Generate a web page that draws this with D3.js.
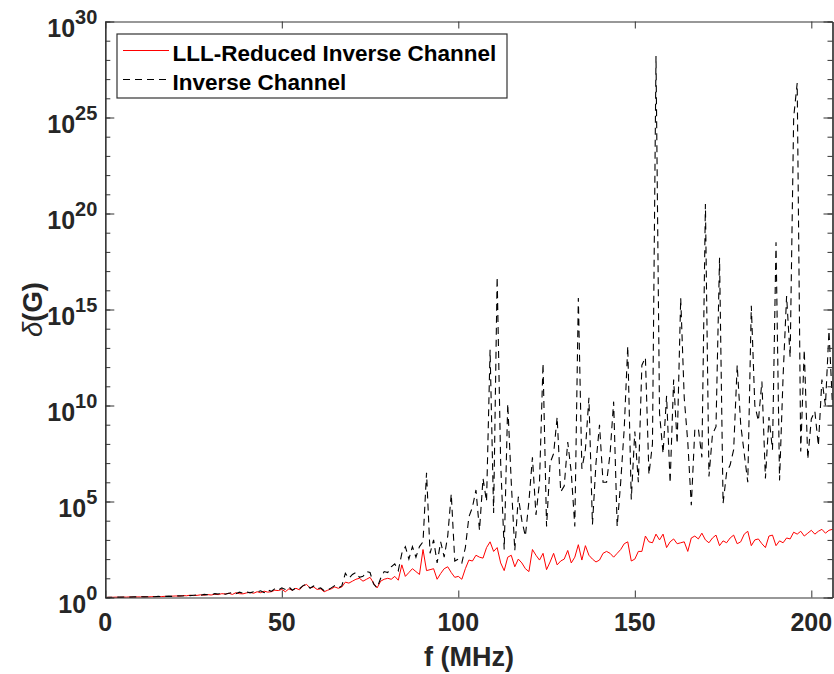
<!DOCTYPE html>
<html>
<head>
<meta charset="utf-8">
<script src="https://cdn.jsdelivr.net/npm/d3@7"></script>
<style>
  body { margin: 0; background: #fff; }
  text { font-family: "Liberation Sans", Arial, Helvetica, sans-serif; font-weight: bold; }
</style>
</head>
<body>
<svg id="chart" width="834" height="674"></svg>
<script>
// frequency grid, MHz
var freqMHz = d3.range(0, 207, 1);

// log10 of delta(G) at each MHz
var lllLog10 = [
  0,0.01,0.01,0.02,0.01,0.02,0.02,0.03,0.02,0.03,
  0.03,0.04,0.03,0.04,0.05,0.04,0.05,0.06,0.05,0.07,
  0.08,0.07,0.1,0.09,0.12,0.1,0.11,0.14,0.12,0.15,
  0.13,0.17,0.15,0.2,0.18,0.22,0.16,0.25,0.2,0.19,
  0.24,0.27,0.22,0.3,0.25,0.33,0.28,0.3,0.38,0.36,
  0.42,0.3,0.45,0.38,0.48,0.4,0.6,0.68,0.5,0.55,
  0.42,0.45,0.3,0.38,0.45,0.55,0.48,0.55,0.8,0.75,
  0.85,0.95,1.0,0.85,0.95,1.05,0.75,0.5,0.85,0.95,
  1.0,0.95,1.1,0.9,1.7,1.1,1.3,1.5,1.35,1.2,
  2.5,1.4,1.45,1.5,0.95,1.25,1.5,1.6,1.3,1.05,
  1.1,0.95,1.5,1.95,1.9,2.2,2.1,2.05,2.6,2.9,
  2.4,2.6,1.8,1.4,2.1,2.2,1.6,2.0,1.8,1.5,
  1.35,2.5,2.2,1.95,2.3,1.45,1.85,2.3,1.7,1.9,
  2.0,2.45,1.8,2.1,2.75,1.95,2.7,2.2,2.0,1.85,
  1.95,2.3,2.4,2.3,2.1,2.3,2.5,2.8,2.9,1.9,
  2.0,2.4,2.4,3.2,2.9,2.85,3.3,3.0,3.3,2.6,
  2.9,3.05,2.8,2.85,2.9,2.4,3.1,3.2,3.05,3.35,
  3.0,2.85,3.1,3.25,2.7,2.95,2.85,3.1,3.25,2.8,
  2.9,3.3,3.45,2.7,3.0,3.05,2.8,2.6,3.2,3.25,
  2.7,2.95,2.85,3.1,3.05,3.4,3.3,3.45,3.2,3.35,
  3.5,3.3,3.45,3.55,3.35,3.5,3.55
];

var invLog10 = [
  0,0.01,0.01,0.02,0.02,0.02,0.03,0.02,0.03,0.03,
  0.04,0.03,0.04,0.05,0.04,0.06,0.05,0.06,0.07,0.06,
  0.08,0.09,0.08,0.11,0.1,0.12,0.13,0.11,0.16,0.14,
  0.15,0.2,0.18,0.24,0.17,0.22,0.27,0.2,0.28,0.22,
  0.3,0.24,0.3,0.28,0.35,0.25,0.4,0.32,0.45,0.38,
  0.5,0.42,0.55,0.38,0.5,0.45,0.62,0.7,0.48,0.6,
  0.45,0.5,0.35,0.4,0.5,0.62,0.5,0.6,1.26,1.0,
  1.2,1.3,1.05,1.1,1.35,1.3,0.7,0.5,1.0,1.35,
  1.3,1.6,1.75,1.4,2.3,2.65,2.0,2.65,2.1,2.65,
  2.9,6.5,2.3,3.0,1.8,2.9,2.1,3.2,5.4,1.9,
  2.0,1.8,2.6,4.2,4.7,5.6,3.5,6.2,5.0,12.9,
  4.4,16.7,7.0,2.5,10.1,6.0,2.45,5.25,4.0,3.2,
  5.0,7.3,4.3,6.0,12.2,3.7,7.0,7.5,9.4,5.5,
  5.8,8.1,6.5,3.7,15.6,6.7,7.7,10.4,3.8,7.0,
  9.0,6.0,6.0,7.5,10.2,3.7,6.0,8.8,13.1,5.1,
  8.65,6.0,12.1,12.5,6.4,8.0,28.2,9.6,7.5,10.5,
  5.95,11.35,8.0,15.6,10.4,8.1,4.8,8.75,8.8,7.3,
  20.5,6.3,8.5,8.9,17.7,4.9,6.5,6.9,7.7,12.1,
  9.0,7.5,6.0,15.2,10.0,9.2,11.25,6.2,9.4,7.7,
  18.5,6.1,11.5,15.7,12.5,25.0,26.8,7.6,12.9,7.2,
  9.3,9.7,7.9,11.35,10.0,13.9,10.0
];

var xTicks = [0, 50, 100, 150, 200];
var yDecades = d3.range(0, 31, 1);
var yLabelExps = [0, 5, 10, 15, 20, 25, 30];
var seriesNames = ["LLL-Reduced Inverse Channel", "Inverse Channel"];

var svg = d3.select("#chart"),
    box = {left: 105.3, right: 832.5, top: 21.5, bottom: 597.5},
    axisColor = "#333";

var x = d3.scaleLinear().domain([0, 206]).range([box.left, box.right]);
var y = d3.scaleLog().domain([1, 1e30]).range([box.bottom, box.top]);

function toPoints(exps) {
  return freqMHz.map(function(f, i) { return {f: f, v: Math.pow(10, exps[i])}; });
}

var line = d3.line()
    .x(function(d) { return x(d.f); })
    .y(function(d) { return y(d.v); });

svg.append("path")
    .datum(toPoints(lllLog10))
    .attr("fill", "none")
    .attr("stroke", "#ff0000")
    .attr("stroke-width", 1)
    .attr("d", line);

svg.append("path")
    .datum(toPoints(invLog10))
    .attr("fill", "none")
    .attr("stroke", "#000")
    .attr("stroke-width", 1.1)
    .attr("stroke-dasharray", "7,5")
    .attr("d", line);

// axes: ticks point inward, box on
function styleAxis(g) {
  g.selectAll("path").attr("stroke", axisColor).attr("stroke-width", 1.2);
  g.selectAll("line").attr("stroke", axisColor).attr("stroke-width", 1);
  g.selectAll("text").remove();
}

svg.append("g").attr("transform", "translate(0," + box.bottom + ")")
    .call(d3.axisBottom(x).tickValues(xTicks).tickSizeInner(-7).tickSizeOuter(0))
    .call(styleAxis);
svg.append("g").attr("transform", "translate(0," + box.top + ")")
    .call(d3.axisTop(x).tickValues(xTicks).tickSizeInner(-7).tickSizeOuter(0))
    .call(styleAxis);

var decadeVals = yDecades.map(function(k) { return Math.pow(10, k); });
var majorVals = yLabelExps.map(function(k) { return Math.pow(10, k); });

svg.append("g").attr("transform", "translate(" + box.left + ",0)")
    .call(d3.axisLeft(y).tickValues(decadeVals).tickSizeInner(-5).tickSizeOuter(0))
    .call(styleAxis);
svg.append("g").attr("transform", "translate(" + box.left + ",0)")
    .call(d3.axisLeft(y).tickValues(majorVals).tickSizeInner(-9).tickSizeOuter(0))
    .call(styleAxis);
svg.append("g").attr("transform", "translate(" + box.right + ",0)")
    .call(d3.axisRight(y).tickValues(decadeVals).tickSizeInner(-5).tickSizeOuter(0))
    .call(styleAxis);
svg.append("g").attr("transform", "translate(" + box.right + ",0)")
    .call(d3.axisRight(y).tickValues(majorVals).tickSizeInner(-9).tickSizeOuter(0))
    .call(styleAxis);

// tick labels
svg.selectAll(".xlab").data(xTicks).enter().append("text")
    .attr("x", function(d) { return x(d); })
    .attr("y", box.bottom + 33)
    .attr("text-anchor", "middle")
    .attr("font-size", 25)
    .attr("fill", "#262626")
    .text(function(d) { return d; });

var ylab = svg.selectAll(".ylab").data(yLabelExps).enter().append("text")
    .attr("x", box.left - 8)
    .attr("y", function(d) { return y(Math.pow(10, d)) + 15; })
    .attr("text-anchor", "end")
    .attr("font-size", 25)
    .attr("fill", "#262626");
ylab.append("tspan").text("10");
ylab.append("tspan").attr("font-size", 20).attr("dy", -13).text(function(d) { return d; });

// axis titles
svg.append("text")
    .attr("x", (box.left + box.right) / 2)
    .attr("y", 666)
    .attr("text-anchor", "middle")
    .attr("font-size", 27)
    .attr("fill", "#262626")
    .text("f (MHz)");

var yt = svg.append("text")
    .attr("transform", "translate(42," + ((box.top + box.bottom) / 2) + ") rotate(-90)")
    .attr("text-anchor", "middle")
    .attr("font-size", 27.5)
    .attr("fill", "#262626");
yt.append("tspan").attr("font-style", "italic").attr("font-weight", "normal").text("δ");
yt.append("tspan").text("(G)");

// legend
var lg = svg.append("g");
lg.append("rect")
    .attr("x", 117).attr("y", 34).attr("width", 390).attr("height", 64)
    .attr("fill", "#fff").attr("stroke", "#333").attr("stroke-width", 1.2);
var rows = [
  {name: seriesNames[0], color: "#ff0000", dash: null, ly: 50.5, ty: 60.5},
  {name: seriesNames[1], color: "#000", dash: "7,5", ly: 79.5, ty: 89.5}
];
rows.forEach(function(r) {
  lg.append("line")
      .attr("x1", 123).attr("x2", 169).attr("y1", r.ly).attr("y2", r.ly)
      .attr("stroke", r.color).attr("stroke-width", 1)
      .attr("stroke-dasharray", r.dash);
  lg.append("text")
      .attr("x", 172.5).attr("y", r.ty)
      .attr("font-size", 22.5)
      .attr("fill", "#000")
      .text(r.name);
});
</script>
</body>
</html>
